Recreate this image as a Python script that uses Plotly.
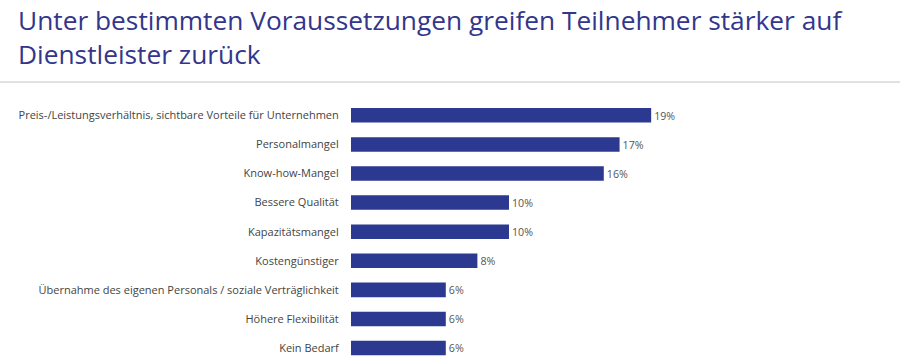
import plotly.graph_objects as go

categories = [
    "Preis-/Leistungsverhältnis, sichtbare Vorteile für Unternehmen",
    "Personalmangel",
    "Know-how-Mangel",
    "Bessere Qualität",
    "Kapazitätsmangel",
    "Kostengünstiger",
    "Übernahme des eigenen Personals / soziale Verträglichkeit",
    "Höhere Flexibilität",
    "Kein Bedarf",
]
values = [19, 17, 16, 10, 10, 8, 6, 6, 6]
value_labels = [f"{v}%" for v in values]

title_lines = [
    "Unter bestimmten Voraussetzungen greifen Teilnehmer stärker auf",
    "Dienstleister zurück",
]

BAR = "#2b3990"
FONT = "Open Sans"

W, H = 900, 360
L, T, B, R = 351, 100, 0, 0
PW, PH = W - L - R, H - T - B


def px_x(x):
    return (x - L) / PW


def px_y(y):
    return 1 - (y - T) / PH


fig = go.Figure(go.Bar(
    x=values, y=categories, orientation="h",
    marker=dict(color=BAR, line=dict(width=0)),
    width=0.5,
    text=value_labels, textposition="outside",
    textfont=dict(family=FONT, size=11, color="#555555"),
    cliponaxis=False,
))

fig.update_layout(
    width=W, height=H,
    margin=dict(l=L, r=R, t=T, b=B, pad=0),
    paper_bgcolor="white", plot_bgcolor="white",
    showlegend=False,
    xaxis=dict(range=[0, 34.75], visible=False, fixedrange=True),
    yaxis=dict(
        type="category", categoryorder="array", categoryarray=categories,
        range=[8.41, -0.526], showgrid=False, zeroline=False, showline=False,
        ticks="outside", ticklen=9, tickcolor="rgba(0,0,0,0)",
        tickfont=dict(family=FONT, size=11, color="#444444"),
        fixedrange=True,
    ),
    annotations=[dict(
        text="<br>".join(title_lines), xref="paper", yref="paper",
        x=px_x(16), y=px_y(37), xanchor="left", yanchor="middle", align="left",
        showarrow=False, font=dict(family=FONT, size=26.3, color="#33368a"),
    )],
    shapes=[dict(
        type="line", xref="paper", yref="paper",
        x0=px_x(0), x1=px_x(900),
        y0=px_y(82), y1=px_y(82),
        line=dict(color="#c4c4c4", width=1),
    )],
)

fig.write_html(
    "out.html",
    config={"displayModeBar": False},
    post_script="document.body.style.margin='0';document.body.style.overflow='hidden';",
)
